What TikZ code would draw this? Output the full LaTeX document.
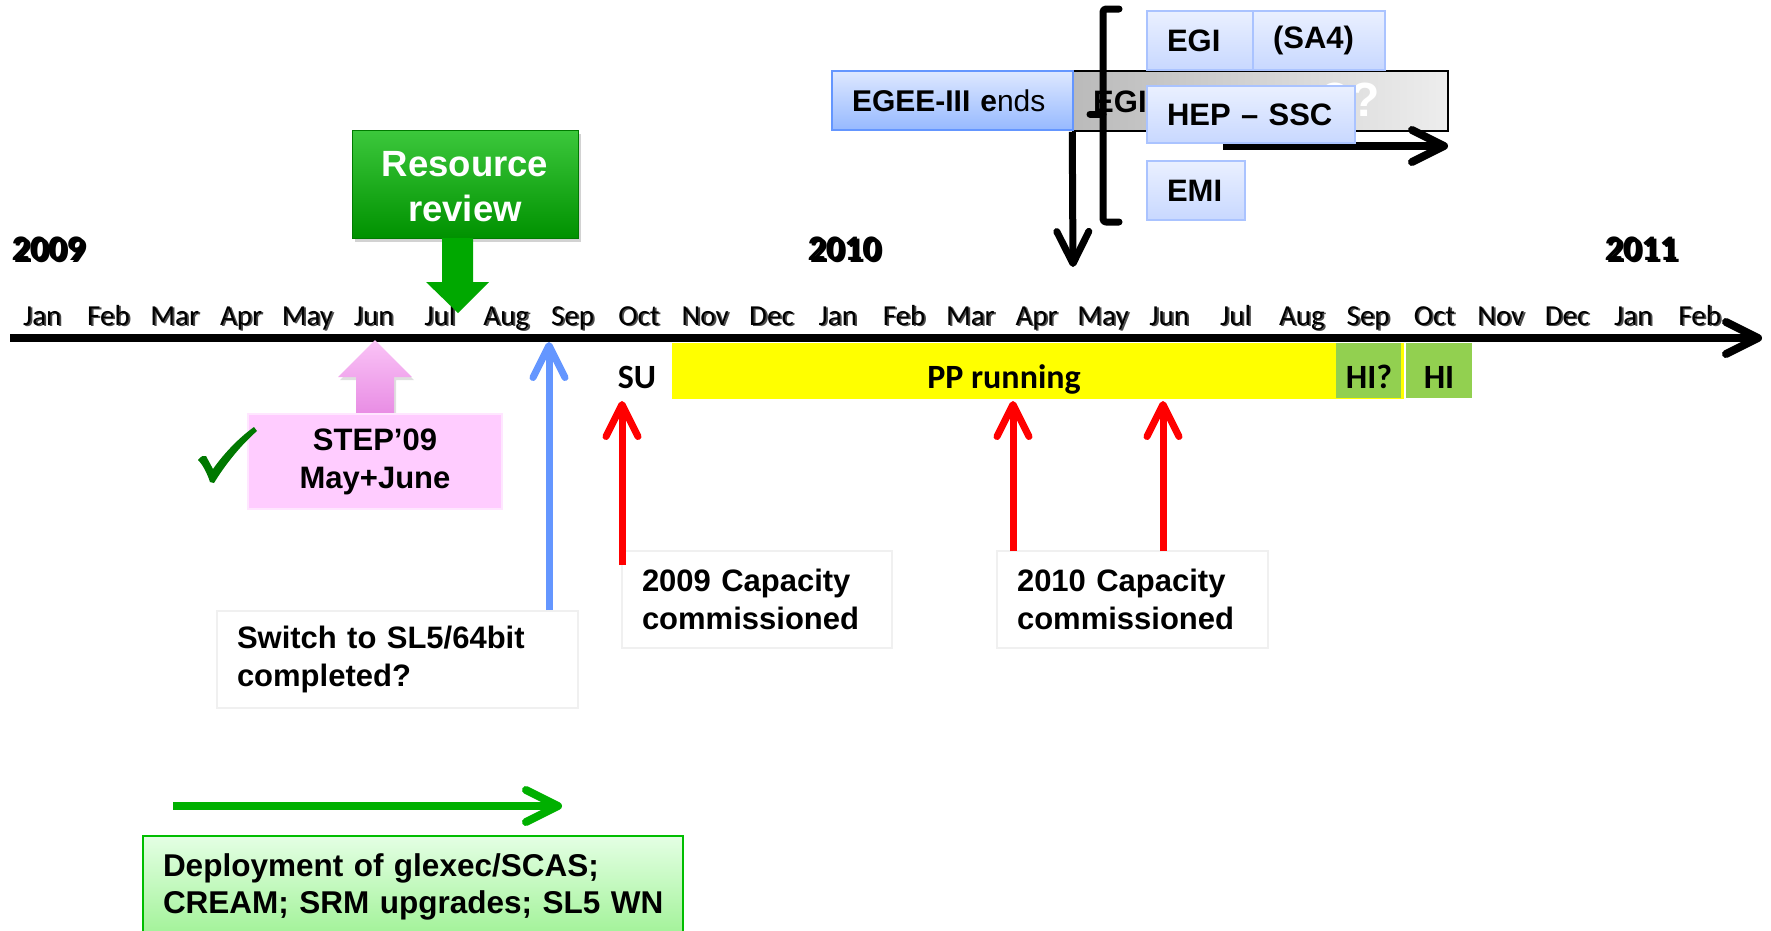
\documentclass[tikz,border=0pt]{standalone}
\usepackage{fontspec}
\setmainfont{Liberation Sans}
\newfontfamily\calib{Carlito}
\usetikzlibrary{arrows.meta,shadows}
\definecolor{redA}{RGB}{255,0,0}
\definecolor{blueA}{RGB}{100,150,255}
\definecolor{greenA}{RGB}{0,176,0}
\definecolor{rrTop}{RGB}{60,200,60}
\definecolor{rrBot}{RGB}{0,145,0}
\definecolor{rrArrow}{RGB}{0,168,0}
\definecolor{pinkArrowT}{RGB}{250,195,246}
\definecolor{pinkArrowB}{RGB}{232,140,228}
\definecolor{stepFill}{RGB}{255,204,255}
\definecolor{depTop}{RGB}{228,255,228}
\definecolor{depBot}{RGB}{160,242,150}
\definecolor{depLine}{RGB}{0,190,0}
\definecolor{hiGreen}{RGB}{146,208,80}
\definecolor{checkGreen}{RGB}{0,120,0}
\definecolor{bxTop}{RGB}{234,240,255}
\definecolor{bxBot}{RGB}{200,216,255}
\definecolor{bxLine}{RGB}{170,195,255}
\definecolor{egTop}{RGB}{222,232,255}
\definecolor{egBot}{RGB}{150,185,255}
\definecolor{egLine}{RGB}{100,150,255}
\definecolor{ppYellow}{RGB}{255,255,0}
\begin{document}
\begin{tikzpicture}[x=1pt,y=-1pt,
  mon/.style={font=\calib\fontsize{29}{30}\selectfont, anchor=base, inner sep=0pt},
  yr/.style={font=\calib\bfseries\fontsize{36}{38}\selectfont, anchor=base, inner sep=0pt},
  ab/.style={font=\bfseries\fontsize{31}{38}\selectfont},
  lbox/.style={ab, align=left, inner xsep=20pt, inner ysep=0pt},
  wbox/.style={lbox, draw=black!6, line width=1.5pt, fill=white, minimum height=97pt},
  bbox/.style={lbox, draw=bxLine, line width=1.5pt, top color=bxTop, bottom color=bxBot, minimum height=59pt},
  calb/.style={font=\calib\bfseries\fontsize{34}{36}\selectfont, anchor=base, inner sep=0pt},
  barb/.style={-{Straight Barb[length=32pt,width=32pt,round]}},
]
\fill[white] (0,0) rectangle (1771,930);
\useasboundingbox (0,0) rectangle (1771,930);

% years
\foreach \t/\x [count=\k] in {2009/49,2010/845,2011/1642} {
  \node[yr] (yg\k) at ({\x+1.5},262) {\t};
  \node[yr] (y\k) at ({\x-1},260.5) {\t};
}

% months
\foreach \m [count=\i from 0] in {Jan,Feb,Mar,Apr,May,Jun,Jul,Aug,Sep,Oct,Nov,Dec,Jan,Feb,Mar,Apr,May,Jun,Jul,Aug,Sep,Oct,Nov,Dec,Jan,Feb} {
  \node[mon, text=black!70] (mg\i) at ({43+66.3*\i+1},326.5) {\m};
  \node[mon] (m\i) at ({43+66.3*\i-0.8},325.5) {\m};
}

% axis
\coordinate (axL) at (10,338);
\coordinate (axR) at (1762,338);
\draw[line width=8pt, barb] (axL) -- (axR);

% PP running bar and HI boxes
\node[fill=ppYellow, minimum width=732pt, minimum height=56pt, inner sep=0pt] (pp) at (1038,371) {};
\node[calb] (ppt) at (1004,388) {PP running};
\node[fill=hiGreen, minimum width=65pt, minimum height=55pt, inner sep=0pt] (hiq) at (1368.5,370.5) {};
\node[calb] (hiqt) at (1369,388) {HI?};
\node[fill=hiGreen, minimum width=66pt, minimum height=55pt, inner sep=0pt] (hi) at (1439,370.5) {};
\node[calb] (hit) at (1439,388) {HI};
\node[calb] (su) at (637,388) {SU};

% Resource review
\node[text=white, align=center, font=\bfseries\fontsize{36.5}{45}\selectfont,
      top color=rrTop, bottom color=rrBot, draw=rrBot!85!black, line width=1pt,
      minimum width=226pt, minimum height=108pt, inner sep=0pt,
      drop shadow={shadow xshift=3pt, shadow yshift=-4pt, opacity=0.35}] (rr) at (465,184) {\rule{0pt}{30pt}Resource\\review};
\fill[rrArrow] (442,238) -- (473,238) -- (473,282) -- (489,282) -- (458,313) -- (426,282) -- (442,282) -- cycle;

% STEP'09
\path[top color=pinkArrowT, bottom color=pinkArrowB, drop shadow={shadow xshift=2pt, shadow yshift=-3pt, opacity=0.25}]
  (375,340) -- (412,377) -- (394,377) -- (394,415) -- (356,415) -- (356,377) -- (338,377) -- cycle;
\node[ab, align=center, fill=stepFill, draw=stepFill!50!white, line width=1.5pt,
      minimum width=254pt, minimum height=95pt, inner sep=0pt] (step) at (375,461.5) {STEP’09\\May+June};
\fill[checkGreen] (198,460) .. controls (201,456) and (204,455) .. (206,456)
  -- (213,469) .. controls (225,452) and (240,437) .. (254,427)
  -- (257,431) .. controls (240,446) and (225,465) .. (214,483)
  -- (210,482) .. controls (207,473) and (203,465) .. cycle;

% Switch to SL5
\node[wbox, text width=321pt] (sw) at (397.5,659.5) {\mbox{Switch to SL5/64bit}\\completed?};
\coordinate (blS) at (549,610);
\coordinate (blT) at (549,342);
\draw[blueA, line width=7pt, barb] (blS) -- (blT);

% Capacity boxes
\node[wbox, text width=230pt] (cap09) at (757,599.5) {\mbox{2009 Capacity}\\commissioned};
\node[wbox, text width=231pt] (cap10) at (1132.5,599.5) {\mbox{2010 Capacity}\\commissioned};
\coordinate (r1S) at (622,565);  \coordinate (r1T) at (622,401);
\coordinate (r2S) at (1013,551); \coordinate (r2T) at (1013,401);
\coordinate (r3S) at (1163,551); \coordinate (r3T) at (1163,401);
\draw[redA, line width=7pt, barb] (r1S) -- (r1T);
\draw[redA, line width=7pt, barb] (r2S) -- (r2T);
\draw[redA, line width=7pt, barb] (r3S) -- (r3T);

% Deployment
\coordinate (gS) at (173,806);
\coordinate (gT) at (562,806);
\draw[greenA, line width=8pt, barb] (gS) -- (gT);
\node[lbox, draw=depLine, line width=2pt, top color=depTop, bottom color=depBot, text width=500pt,
      minimum height=102pt, font=\bfseries\fontsize{31.5}{37}\selectfont] (dep) at (413,887)
      {\mbox{Deployment of glexec/SCAS;}\\\mbox{CREAM; SRM upgrades; SL5 WN}};

% top right cluster
\node[draw=black, line width=1.5pt, left color=black!27, right color=black!7,
      minimum width=375pt, minimum height=60pt, inner sep=0pt] (gray) at (1260.5,101) {};
\node[ab, anchor=base west, inner sep=0pt] (egigray) at (1093,112) {EGI};
\node[font=\bfseries\fontsize{48}{50}\selectfont, text=white, anchor=base, inner sep=0pt] (qq) at (1350,116) {??};
\coordinate (raS) at (1223,146);
\coordinate (raT) at (1448,146);
\draw[line width=8pt, barb] (raS) -- (raT);
\node[lbox, draw=egLine, line width=1.5pt, top color=egTop, bottom color=egBot, minimum height=59pt,
      text width=201pt, font=\fontsize{30}{36}\selectfont] (egee) at (952.5,100.5) {\mbox{\bfseries EGEE-III e}nds};
\node[bbox, text width=66pt] (egi) at (1200,40.5) {EGI};
\node[bbox, text width=92pt] (sa4) at (1319,40.5) {(SA4)};
\node[bbox, text width=168pt, minimum height=57pt] (hep) at (1251,114.5) {\mbox{HEP – SSC}};
\node[bbox, text width=58pt] (emi) at (1196,190.5) {EMI};
\draw[line width=7pt, line cap=round, line join=round, rounded corners=3pt] (1119,9) -- (1103,9) -- (1103,222) -- (1119,222);
\draw[line width=7pt, line cap=round] (1103,114) -- (1090,114);
\coordinate (daT) at (1073,267);
\draw[line width=7pt, barb] (gray.south west) -- (daT);
\end{tikzpicture}
\end{document}
